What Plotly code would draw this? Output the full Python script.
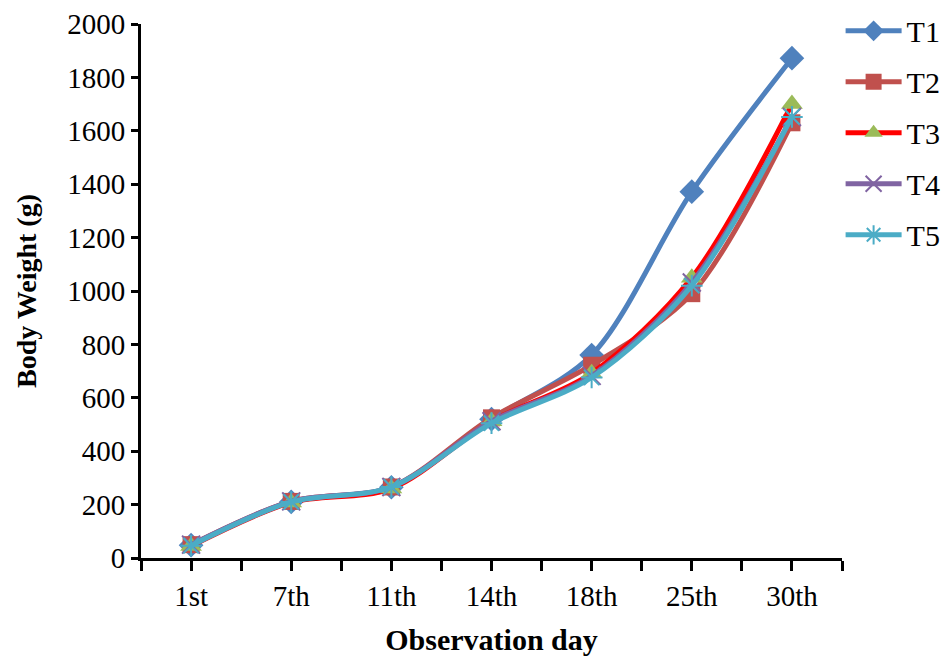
import plotly.graph_objects as go

days = ["1st", "7th", "11th", "14th", "18th", "25th", "30th"]
T1 = [48, 210, 265, 520, 760, 1372, 1872]
T2 = [50, 212, 266, 525, 722, 990, 1630]
T3 = [45, 208, 260, 512, 692, 1050, 1700]
T4 = [50, 212, 266, 512, 682, 1032, 1652]
T5 = [46, 210, 266, 505, 676, 1020, 1652]
y_ticks = [0, 200, 400, 600, 800, 1000, 1200, 1400, 1600, 1800, 2000]

xpos = list(range(len(days)))

# ticks at each category centre and at each half-way boundary
x_tickvals, x_ticktext = [], []
for i, d in enumerate(days):
    x_tickvals += [i - 0.5, i]
    x_ticktext += ["", d]
x_tickvals.append(len(days) - 0.5)
x_ticktext.append("")

series = [
    ("T1", T1, "#4F81BD", "#4F81BD", "diamond", 19, None),
    ("T2", T2, "#C0504D", "#C0504D", "square", 17, None),
    ("T3", T3, "#FF0000", "#9BBB59", "triangle-up", 19, None),
    ("T4", T4, "#8064A2", "#8064A2", "x-thin", 18, "#8064A2"),
    ("T5", T5, "#4BACC6", "#4BACC6", "asterisk", 18, "#4BACC6"),
]

fig = go.Figure()
for name, vals, lc, mc, sym, size, olc in series:
    marker = dict(symbol=sym, size=size, color=mc)
    if olc:
        marker["line"] = dict(color=olc, width=2)
    fig.add_trace(go.Scatter(
        x=xpos, y=vals, name=name, legendgroup=name, mode="lines+markers",
        line=dict(color=lc, width=5, shape="spline", smoothing=0.9),
        marker=marker,
    ))

fig.update_layout(
    width=941, height=660,
    margin=dict(l=141, r=99, t=24, b=102, autoexpand=False),
    paper_bgcolor="white", plot_bgcolor="white",
    font=dict(family="Liberation Serif", size=29, color="black"),
    legend=dict(x=0.998, y=1.036, xanchor="left", yanchor="top",
                font=dict(size=30), itemwidth=56, tracegroupgap=9,
                bgcolor="rgba(0,0,0,0)"),
    showlegend=True,
)
fig.update_xaxes(
    range=[-0.5, len(days) - 0.5],
    tickmode="array", tickvals=x_tickvals, ticktext=x_ticktext,
    showline=True, linecolor="black", linewidth=3,
    ticks="outside", ticklen=10, tickwidth=2.5, tickcolor="black",
    showgrid=False, zeroline=False,
    title=dict(text="<b>Observation day</b>", font=dict(size=30), standoff=19),
)
fig.update_yaxes(
    range=[0, 2000], tickvals=y_ticks,
    showline=True, linecolor="black", linewidth=3,
    ticks="outside", ticklen=7, tickwidth=2.5, tickcolor="black",
    showgrid=False, zeroline=False,
    title=dict(text="<b>Body Weight (g)</b>", font=dict(size=28), standoff=23),
)

fig.write_html("out.html")
